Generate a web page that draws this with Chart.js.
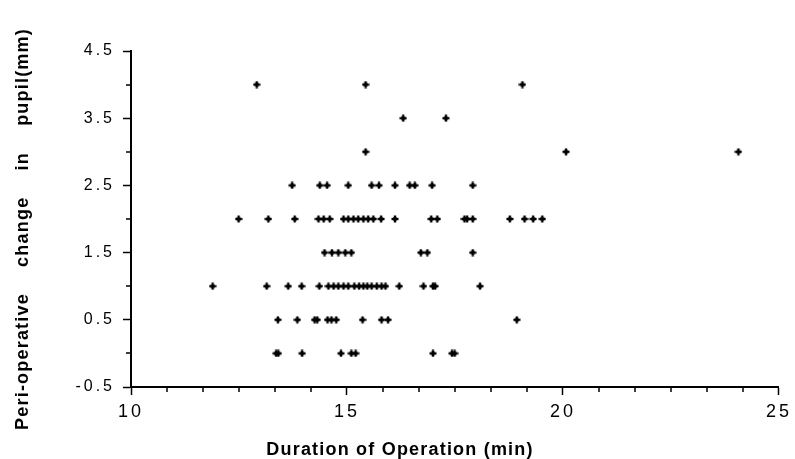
<!DOCTYPE html>
<html>
<head>
<meta charset="utf-8">
<script src="https://cdn.jsdelivr.net/npm/chart.js@4.4.1/dist/chart.umd.min.js"></script>
<style>
  html, body { margin: 0; padding: 0; background: #fff; }
  #wrap { position: relative; width: 795px; height: 459px; }
  canvas { display: block; }
</style>
</head>
<body>
<div id="wrap"><canvas id="c" width="795" height="459"></canvas></div>
<script>
// Duration of operation (min)
const durations = [
  12.91, 15.43, 19.06,
  16.30, 17.29,
  15.43, 20.07, 24.06,
  13.73, 14.37, 14.54, 15.03, 15.57, 15.74, 16.11, 16.45, 16.57, 16.97, 17.91,
  12.49, 13.18, 13.79, 14.34, 14.46, 14.60, 14.92, 15.03, 15.15, 15.26, 15.38, 15.49, 15.61, 15.79, 16.11, 16.95, 17.09, 17.72, 17.78, 17.91, 18.77, 19.11, 19.31, 19.52,
  14.48, 14.65, 14.80, 14.96, 15.10, 16.71, 16.86, 17.91,
  11.89, 13.14, 13.64, 13.95, 14.36, 14.57, 14.69, 14.80, 14.92, 15.03, 15.17, 15.28, 15.38, 15.47, 15.57, 15.69, 15.80, 15.89, 16.21, 16.77, 16.99, 17.04, 18.08,
  13.40, 13.85, 14.25, 14.31, 14.55, 14.64, 14.75, 15.36, 15.80, 15.95, 18.93,
  13.36, 13.41, 13.96, 14.86, 15.10, 15.20, 16.99, 17.43, 17.49
];
// Peri-operative change in pupil (mm)
const pupilChange = [
  4, 4, 4,
  3.5, 3.5,
  3, 3, 3,
  2.5, 2.5, 2.5, 2.5, 2.5, 2.5, 2.5, 2.5, 2.5, 2.5, 2.5,
  2, 2, 2, 2, 2, 2, 2, 2, 2, 2, 2, 2, 2, 2, 2, 2, 2, 2, 2, 2, 2, 2, 2, 2,
  1.5, 1.5, 1.5, 1.5, 1.5, 1.5, 1.5, 1.5,
  1, 1, 1, 1, 1, 1, 1, 1, 1, 1, 1, 1, 1, 1, 1, 1, 1, 1, 1, 1, 1, 1, 1,
  0.5, 0.5, 0.5, 0.5, 0.5, 0.5, 0.5, 0.5, 0.5, 0.5, 0.5,
  0, 0, 0, 0, 0, 0, 0, 0, 0
];
const xTickLabels = ['10', '15', '20', '25'];
const yTickLabels = ['-0.5', '0.5', '1.5', '2.5', '3.5', '4.5'];
const xMinorPerMajor = 5;   // minor ticks between two labelled x ticks
const yMinorPerMajor = 1;   // minor ticks between two labelled y ticks
const xTitle = 'Duration of Operation (min)';
const yTitle = 'Peri-operative change in pupil(mm)';

const points = durations.map((d, i) => ({ x: d, y: pupilChange[i] }));

// marker: a fat plus with a filled diamond body
function makeMarker() {
  const m = document.createElement('canvas');
  m.width = 8; m.height = 8;
  const g = m.getContext('2d');
  g.fillStyle = '#000';
  g.beginPath();
  g.moveTo(4, 1); g.lineTo(7, 4); g.lineTo(4, 7); g.lineTo(1, 4); g.closePath();
  g.fill();
  g.fillRect(0.5, 2.8, 7, 2.4);
  g.fillRect(2.8, 0.5, 2.4, 7);
  return m;
}

const decor = {
  id: 'decor',
  beforeDraw(chart) {
    chart.ctx.letterSpacing = '3px';
  },
  afterDraw(chart) {
    const ctx = chart.ctx;
    const xs = chart.scales.x, ys = chart.scales.y;
    ctx.save();
    ctx.letterSpacing = '0px';
    ctx.strokeStyle = '#000';
    ctx.lineWidth = 1.5;
    ctx.beginPath();
    const xt = xs.ticks.map(t => t.value);
    for (let i = 0; i < xt.length - 1; i++) {
      const step = (xt[i + 1] - xt[i]) / (xMinorPerMajor + 1);
      for (let k = 1; k <= xMinorPerMajor; k++) {
        const px = Math.round(xs.getPixelForValue(xt[i] + k * step));
        ctx.moveTo(px, xs.top);
        ctx.lineTo(px, xs.top + 5);
      }
    }
    const yt = ys.ticks.map(t => t.value);
    for (let i = 0; i < yt.length - 1; i++) {
      const step = (yt[i + 1] - yt[i]) / (yMinorPerMajor + 1);
      for (let k = 1; k <= yMinorPerMajor; k++) {
        const py = Math.round(ys.getPixelForValue(yt[i] + k * step));
        ctx.moveTo(ys.right, py);
        ctx.lineTo(ys.right - 5, py);
      }
    }
    ctx.stroke();

    ctx.fillStyle = '#000';
    ctx.font = 'bold 18px "Liberation Sans", Arial, sans-serif';
    ctx.textAlign = 'center';
    ctx.textBaseline = 'middle';
    ctx.letterSpacing = '1.2px';
    ctx.fillText(xTitle, 400, 450);

    ctx.translate(23, 229);
    ctx.rotate(-Math.PI / 2);
    ctx.wordSpacing = '20px';
    ctx.fillText(yTitle, 0, 0);
    ctx.restore();
  }
};

new Chart(document.getElementById('c'), {
  type: 'scatter',
  data: {
    datasets: [{
      data: points,
      pointStyle: makeMarker(),
      radius: 4,
      hoverRadius: 4,
      backgroundColor: '#000',
      borderColor: '#000',
      borderWidth: 0
    }]
  },
  options: {
    responsive: false,
    animation: false,
    events: [],
    layout: { padding: { left: 0, right: 12, top: 51, bottom: 0 } },
    plugins: { legend: { display: false }, tooltip: { enabled: false }, title: { display: false } },
    scales: {
      x: {
        type: 'linear',
        min: 10, max: 25,
        afterFit(s) { s.height = 72; },
        border: { display: true, color: '#000', width: 2 },
        grid: { drawOnChartArea: false, drawTicks: true, tickLength: 8, tickColor: '#000', tickWidth: 1.5 },
        ticks: {
          stepSize: 5,
          color: '#000',
          padding: 6,
          font: { family: '"Liberation Sans", Arial, sans-serif', size: 18 },
          callback: (v) => xTickLabels[Math.round((v - 10) / 5)]
        }
      },
      y: {
        type: 'linear',
        min: -0.5, max: 4.5,
        afterFit(s) { s.width = 131; },
        border: { display: true, color: '#000', width: 2 },
        grid: { drawOnChartArea: false, drawTicks: true, tickLength: 8, tickColor: '#000', tickWidth: 1.5 },
        ticks: {
          stepSize: 1,
          color: '#000',
          padding: 8,
          font: { family: '"Liberation Sans", Arial, sans-serif', size: 16 },
          callback: (v) => yTickLabels[Math.round(v + 0.5)]
        }
      }
    }
  },
  plugins: [decor]
});
</script>
</body>
</html>
